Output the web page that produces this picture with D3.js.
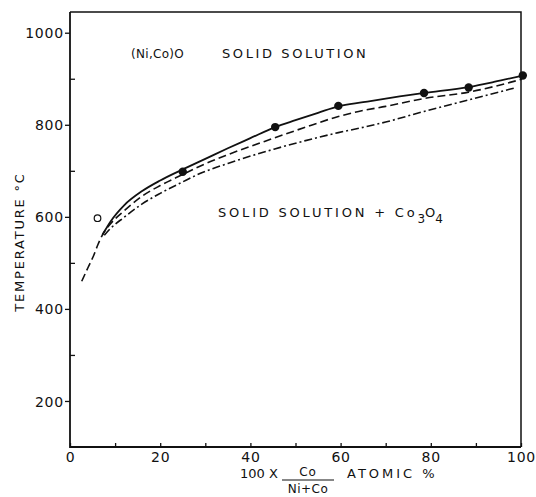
<!DOCTYPE html>
<html><head><meta charset="utf-8">
<script src="https://cdn.jsdelivr.net/npm/d3@7"></script>
<style>
body{margin:0;background:#fff;}
text{font-family:"DejaVu Sans",sans-serif;fill:#111;}
</style></head>
<body><svg id="c" width="536" height="497"></svg>
<script>
// ---- data ----
const xMajorTicks = [0, 20, 40, 60, 80, 100];
const xMinorTicks = [10, 30, 50, 70, 90];
const yMajorTicks = [200, 400, 600, 800, 1000];
const yMinorTicks = [300, 500, 700, 900];

const solidX = [7.2, 9, 12, 16, 20, 25, 30, 35, 40, 45.5, 50, 55, 59.5, 65, 70, 78.5, 88.4, 94, 100.4];
const solidY = [561, 590, 625, 656, 679, 703, 726, 749, 771, 795, 810, 826, 840, 849, 857, 869, 882, 893, 907];

const dashedX = [2.6, 4, 5.2, 6.2, 7.2, 9, 12, 16, 20, 25, 28.8, 35, 45.2, 52, 59.5, 64, 70, 78.5, 88.4, 100.2];
const dashedY = [460, 490, 515, 540, 561, 585, 613, 645, 668, 692, 710, 735, 771, 794, 818, 829, 840, 857, 871, 899];

const dashDotX = [7.6, 9, 12, 16, 20, 25, 28.8, 35, 45.2, 52, 59.5, 64.3, 70, 78.5, 88.4, 99];
const dashDotY = [560, 575, 599, 628, 651, 676, 694, 716, 747, 765, 783, 793, 806, 829, 854, 881];

const filledX = [25, 45.5, 59.5, 78.5, 88.4, 100.4];
const filledY = [698, 795, 841, 869, 881, 907];
const openX = [6.1];
const openY = [597];

// ---- scales ----
const svg = d3.select("#c");
const x = d3.scaleLinear().domain([0, 100]).range([70, 521]);
const y = d3.scaleLinear().domain([100, 1045]).range([447, 12]);

// frame (top and right borders)
svg.append("path")
  .attr("d", `M${x(0)},${y(1045)}H${x(100)}V${y(100)}`)
  .attr("fill", "none").attr("stroke", "#111").attr("stroke-width", 1.5);
// axis lines
svg.append("path")
  .attr("d", `M${x(0)},${y(1045)}V${y(100)}H${x(100)}`)
  .attr("fill", "none").attr("stroke", "#111").attr("stroke-width", 1.8);

// y axis majors (outward)
const gy = svg.append("g").attr("transform", `translate(${x(0)},0)`)
  .call(d3.axisLeft(y).tickValues(yMajorTicks).tickSize(5).tickPadding(1).tickFormat(d3.format("d")));
// y minor (inward)
const gy2 = svg.append("g").attr("transform", `translate(${x(0)},0)`)
  .call(d3.axisLeft(y).tickValues(yMinorTicks).tickSize(-5).tickFormat(""));
// x axis ticks inward, labels below
const gx = svg.append("g").attr("transform", `translate(0,${y(100)})`)
  .call(d3.axisBottom(x).tickValues(xMajorTicks).tickSizeInner(-4).tickSizeOuter(0).tickPadding(5).tickFormat(d3.format("d")));
const gx2 = svg.append("g").attr("transform", `translate(0,${y(100)})`)
  .call(d3.axisBottom(x).tickValues(xMinorTicks).tickSizeInner(-4).tickSizeOuter(0).tickFormat(""));
[gy, gy2, gx, gx2].forEach(g => {
  g.select(".domain").remove();
  g.selectAll("line").attr("stroke", "#111").attr("stroke-width", 1.3);
  g.selectAll("text").attr("font-family", "DejaVu Sans").attr("font-size", 14)
    .attr("letter-spacing", 0.8).attr("fill", "#111");
});
gy.selectAll("text").attr("dy", "0.36em");

// lines
const line = d3.line().x(d => x(d[0])).y(d => y(d[1])).curve(d3.curveMonotoneX);
const zip = (a, b) => a.map((v, i) => [v, b[i]]);
svg.append("path").attr("d", line(zip(solidX, solidY)))
  .attr("fill", "none").attr("stroke", "#111").attr("stroke-width", 1.8);
svg.append("path").attr("d", line(zip(dashedX, dashedY)))
  .attr("fill", "none").attr("stroke", "#111").attr("stroke-width", 1.6)
  .attr("stroke-dasharray", "8,4");
svg.append("path").attr("d", line(zip(dashDotX, dashDotY)))
  .attr("fill", "none").attr("stroke", "#111").attr("stroke-width", 1.6)
  .attr("stroke-dasharray", "8,3,2,3");

// points
svg.selectAll("circle.f").data(zip(filledX, filledY)).enter().append("circle")
  .attr("cx", d => x(d[0])).attr("cy", d => y(d[1])).attr("r", 4.2).attr("fill", "#111");
svg.selectAll("circle.o").data(zip(openX, openY)).enter().append("circle")
  .attr("cx", d => x(d[0])).attr("cy", d => y(d[1])).attr("r", 3.3)
  .attr("fill", "#fff").attr("stroke", "#111").attr("stroke-width", 1.2);

// annotations
svg.append("text").attr("x", 131).attr("y", 58).attr("font-size", 12).attr("letter-spacing", 0.3)
  .text("(Ni,Co)O");
svg.append("text").attr("x", 222).attr("y", 58).attr("font-size", 13).attr("letter-spacing", 2.6)
  .text("SOLID SOLUTION");
const t2 = svg.append("text").attr("x", 218).attr("y", 217).attr("font-size", 13).attr("letter-spacing", 2.8);
t2.append("tspan").text("SOLID SOLUTION + Co");
t2.append("tspan").attr("dy", 6).attr("font-size", 12).attr("letter-spacing", 0).text("3");
t2.append("tspan").attr("dy", -6).attr("letter-spacing", 0).text("O");
t2.append("tspan").attr("dy", 6).attr("font-size", 12).text("4");

// y axis title
svg.append("text").attr("transform", "translate(24,242) rotate(-90)")
  .attr("text-anchor", "middle").attr("font-size", 13).attr("letter-spacing", 1.8)
  .text("TEMPERATURE °C");

// x axis title
svg.append("text").attr("x", 240).attr("y", 478).attr("font-size", 13).attr("letter-spacing", 0).text("100 X");
svg.append("text").attr("x", 308).attr("y", 476).attr("text-anchor", "middle").attr("font-size", 12).attr("letter-spacing", 1).text("Co");
svg.append("line").attr("x1", 282).attr("x2", 334).attr("y1", 480).attr("y2", 480).attr("stroke", "#111").attr("stroke-width", 1.2);
svg.append("text").attr("x", 308).attr("y", 493).attr("text-anchor", "middle").attr("font-size", 12).attr("letter-spacing", 0.5).text("Ni+Co");
svg.append("text").attr("x", 347).attr("y", 478).attr("font-size", 13).attr("letter-spacing", 3).text("ATOMIC %");
</script></body></html>
